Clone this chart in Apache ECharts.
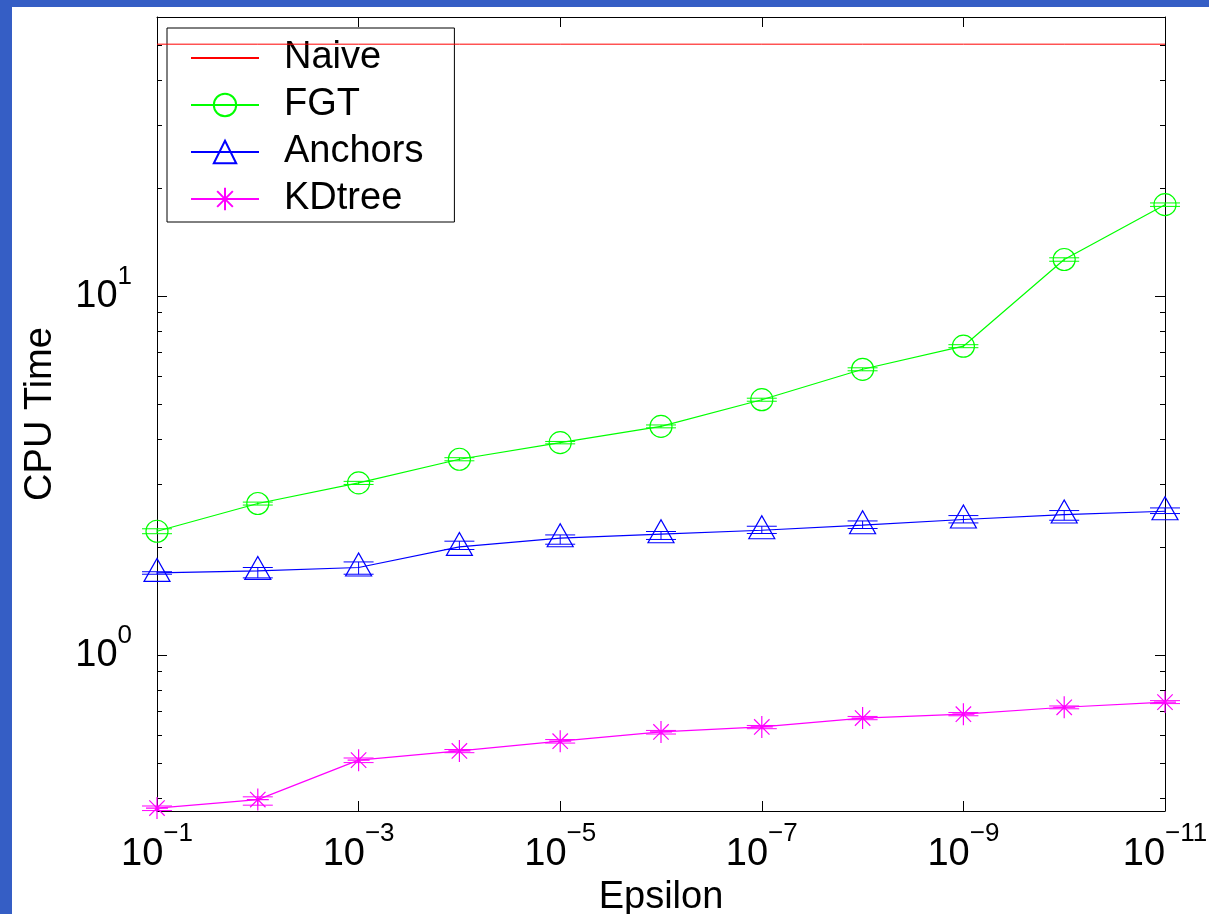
<!DOCTYPE html>
<html><head><meta charset="utf-8">
<script src="https://cdn.jsdelivr.net/npm/echarts@6/dist/echarts.min.js"></script>
<style>
html,body{margin:0;padding:0;background:#355ec5;}
#wrap{position:absolute;left:0;top:0;width:1209px;height:914px;background:#355ec5;}
#chart{position:absolute;left:12px;top:7px;width:1197px;height:907px;background:#fff;}
</style></head><body><div id="wrap"><div id="chart"></div></div>
<script>
// ---- data ----
const epsilon = [1e-1, 1e-2, 1e-3, 1e-4, 1e-5, 1e-6, 1e-7, 1e-8, 1e-9, 1e-10, 1e-11];
const xTickValues = [1e-1, 1e-3, 1e-5, 1e-7, 1e-9, 1e-11];
const yMajorTicks = [1, 10];
const yMinorTicks = [0.4, 0.5, 0.6, 0.7, 0.8, 0.9, 2, 3, 4, 5, 6, 7, 8, 9, 20, 30, 40, 50];
const seriesNames = ['Naive', 'FGT', 'Anchors', 'KDtree'];

const naive   = [50.4, 50.4, 50.4, 50.4, 50.4, 50.4, 50.4, 50.4, 50.4, 50.4, 50.4];
const fgt     = [2.215, 2.646, 3.02, 3.515, 3.91, 4.34, 5.15, 6.26, 7.26, 12.66, 18.0];
const fgtLow  = [2.18, 2.62, 2.99, 3.48, 3.88, 4.30, 5.10, 6.20, 7.19, 12.52, 17.8];
const fgtHigh = [2.25, 2.67, 3.05, 3.55, 3.94, 4.38, 5.20, 6.32, 7.33, 12.80, 18.2];
const anchors     = [1.695, 1.717, 1.755, 2.003, 2.118, 2.173, 2.229, 2.302, 2.388, 2.465, 2.518];
const anchorsLow  = [1.681, 1.642, 1.681, 1.970, 2.038, 2.101, 2.183, 2.254, 2.336, 2.377, 2.481];
const anchorsHigh = [1.708, 1.755, 1.819, 2.078, 2.163, 2.211, 2.287, 2.366, 2.449, 2.529, 2.572];
const kdtree     = [0.375, 0.396, 0.510, 0.541, 0.576, 0.611, 0.631, 0.668, 0.685, 0.716, 0.740];
const kdtreeLow  = [0.369, 0.382, 0.502, 0.535, 0.569, 0.603, 0.624, 0.661, 0.678, 0.709, 0.733];
const kdtreeHigh = [0.380, 0.403, 0.517, 0.546, 0.582, 0.617, 0.637, 0.675, 0.692, 0.722, 0.747];

// ---- helpers ----
const FONT = 'Liberation Sans, Arial, Helvetica, sans-serif';
const pair = (ys) => epsilon.map((x, i) => [x, ys[i]]);
const errData = (lo, hi) => epsilon.map((x, i) => [x, lo[i], hi[i]]);
function expLabel(v) {
  const e = Math.round(Math.log10(v));
  return '{b|10}{e|' + (e < 0 ? '\u2212' + (-e) : String(e)) + '}';
}
function errSeries(name, lo, hi, color) {
  return {
    name: name, type: 'custom', xAxisIndex: 0, yAxisIndex: 0, z: 3, silent: true,
    data: errData(lo, hi),
    renderItem: function (params, api) {
      const x = api.value(0);
      const pHi = api.coord([x, api.value(2)]);
      const pLo = api.coord([x, api.value(1)]);
      const w = 15;
      const st = { stroke: color, lineWidth: 1 };
      return { type: 'group', children: [
        { type: 'line', shape: { x1: pHi[0], y1: pHi[1], x2: pLo[0], y2: pLo[1] }, style: st },
        { type: 'line', shape: { x1: pHi[0] - w, y1: pHi[1], x2: pHi[0] + w, y2: pHi[1] }, style: st },
        { type: 'line', shape: { x1: pLo[0] - w, y1: pLo[1], x2: pLo[0] + w, y2: pLo[1] }, style: st }
      ]};
    }
  };
}

const xBase = {
  type: 'log', inverse: true, min: 1e-11, max: 1e-1,
  splitLine: { show: false }, minorTick: { show: false },
  axisLine: { show: true, onZero: false, lineStyle: { color: '#000', width: 1 } },
  axisTick: { show: true, inside: true, length: 10, lineStyle: { color: '#000', width: 1 }, customValues: xTickValues }
};
const yBase = {
  type: 'log', min: 0.368, max: 60,
  splitLine: { show: false }, minorTick: { show: false }
};

const chart = echarts.init(document.getElementById('chart'), null, { renderer: 'canvas' });
chart.setOption({
  animation: false,
  backgroundColor: '#ffffff',
  textStyle: { fontFamily: FONT },
  grid: { left: 145, top: 10, width: 1008, height: 794, containLabel: false, outerBoundsMode: 'none' },
  legend: {
    data: seriesNames, orient: 'vertical', left: 155, top: 21,
    backgroundColor: '#fff', borderColor: '#000', borderWidth: 1, borderRadius: 0,
    padding: [10, 31, 3, 23], itemGap: 7, itemWidth: 68, itemHeight: 28,
    textStyle: { fontFamily: FONT, fontSize: 38, color: '#000', lineHeight: 40, padding: [0, 0, 0, 20] },
    selectedMode: false
  },
  xAxis: [
    Object.assign({}, xBase, {
      position: 'bottom',
      name: 'Epsilon', nameLocation: 'middle', nameGap: 66,
      nameTextStyle: { fontFamily: FONT, fontSize: 38, color: '#000' },
      axisLabel: {
        show: true, margin: 25, customValues: xTickValues, formatter: expLabel,
        rich: {
          b: { fontFamily: FONT, fontSize: 38, lineHeight: 38, color: '#000', verticalAlign: 'bottom' },
          e: { fontFamily: FONT, fontSize: 26, lineHeight: 26, color: '#000', verticalAlign: 'bottom', padding: [0, 0, 27, 0] }
        }
      }
    }),
    Object.assign({}, xBase, { position: 'top', axisLabel: { show: false } })
  ],
  yAxis: [
    Object.assign({}, yBase, {
      position: 'left',
      name: 'CPU Time', nameLocation: 'middle', nameGap: 97,
      nameTextStyle: { fontFamily: FONT, fontSize: 38, color: '#000' },
      axisLine: { show: true, onZero: false, lineStyle: { color: '#000', width: 1 } },
      axisTick: { show: true, inside: true, length: 10, lineStyle: { color: '#000' }, customValues: yMajorTicks },
      axisLabel: {
        show: true, margin: 25, customValues: yMajorTicks, formatter: expLabel,
        rich: {
          b: { fontFamily: FONT, fontSize: 38, lineHeight: 38, color: '#000', verticalAlign: 'bottom' },
          e: { fontFamily: FONT, fontSize: 26, lineHeight: 26, color: '#000', verticalAlign: 'bottom', padding: [0, 0, 25, 0] }
        }
      }
    }),
    Object.assign({}, yBase, {
      position: 'left', axisLine: { show: false },
      axisTick: { show: true, inside: true, length: 5, lineStyle: { color: '#000' }, customValues: yMinorTicks },
      axisLabel: { show: false }
    }),
    Object.assign({}, yBase, {
      position: 'right',
      axisLine: { show: true, onZero: false, lineStyle: { color: '#000', width: 1 } },
      axisTick: { show: true, inside: true, length: 10, lineStyle: { color: '#000' }, customValues: yMajorTicks },
      axisLabel: { show: false }
    }),
    Object.assign({}, yBase, {
      position: 'right', axisLine: { show: false },
      axisTick: { show: true, inside: true, length: 5, lineStyle: { color: '#000' }, customValues: yMinorTicks },
      axisLabel: { show: false }
    })
  ],
  series: [
    {
      name: 'Naive', type: 'line', data: pair(naive), z: 4,
      symbol: 'circle', showSymbol: false,
      color: '#ff0000',
      itemStyle: { color: 'rgba(255,255,255,0)', borderWidth: 0, opacity: 0 },
      lineStyle: { color: '#ff0000', width: 1 }
    },
    errSeries('FGT-err', fgtLow, fgtHigh, '#00ff00'),
    errSeries('Anchors-err', anchorsLow, anchorsHigh, '#0000ff'),
    errSeries('KDtree-err', kdtreeLow, kdtreeHigh, '#ff00ff'),
    {
      name: 'FGT', type: 'line', data: pair(fgt), z: 5,
      symbol: 'circle', symbolSize: 22, showAllSymbol: true,
      color: '#00ff00',
      itemStyle: { color: 'rgba(255,255,255,0)', borderColor: '#00ff00', borderWidth: 1.2 },
      lineStyle: { color: '#00ff00', width: 1.2 }
    },
    {
      name: 'Anchors', type: 'line', data: pair(anchors), z: 5,
      symbol: 'triangle', symbolSize: [26, 23], symbolOffset: [0, -3], showAllSymbol: true,
      color: '#0000ff',
      itemStyle: { color: 'rgba(255,255,255,0)', borderColor: '#0000ff', borderWidth: 1.2 },
      lineStyle: { color: '#0000ff', width: 1.2 }
    },
    {
      name: 'KDtree', type: 'line', data: pair(kdtree), z: 5,
      symbol: 'path://M0 -10 L0 10 M-10 0 L10 0 M-7 -7 L7 7 M-7 7 L7 -7', symbolSize: 22, showAllSymbol: true,
      color: '#ff00ff',
      itemStyle: { color: 'rgba(255,255,255,0)', borderColor: '#ff00ff', borderWidth: 1.2 },
      lineStyle: { color: '#ff00ff', width: 1.2 }
    }
  ]
});
</script></body></html>
